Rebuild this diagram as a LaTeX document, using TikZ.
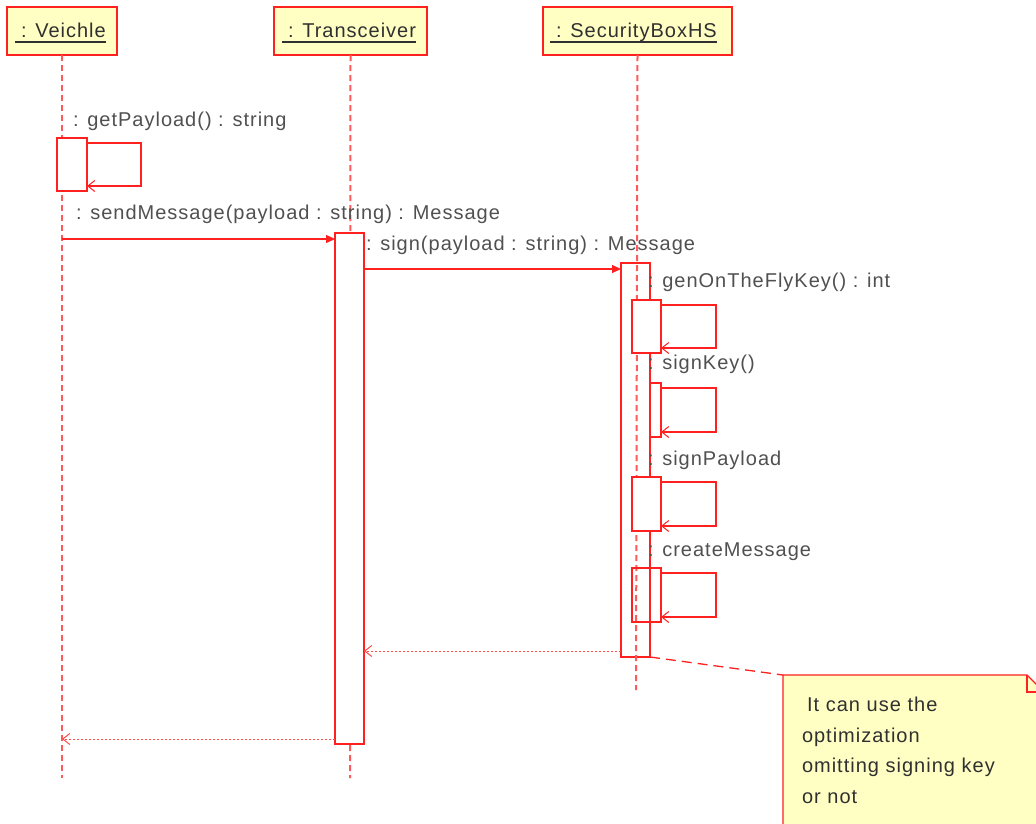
\documentclass[tikz,border=0pt]{standalone}
\usepackage{fontspec}
\setmainfont{Liberation Sans}[LetterSpace=5]
\usetikzlibrary{arrows.meta,calc}
\definecolor{umlred}{HTML}{FF2020}
\definecolor{lifered}{HTML}{FF5A5A}
\definecolor{noteyellow}{HTML}{FFFFC4}
\definecolor{labelgray}{HTML}{505050}
\definecolor{headtext}{HTML}{303030}
\tikzset{
  x=1pt, y=-1pt,
  every node/.style={inner sep=0pt, outer sep=0pt},
  txt/.style={font=\fontsize{20}{24}\selectfont, anchor=base west},
  lbl/.style={txt, text=labelgray},
  head/.style={draw=umlred, line width=1.8pt, fill=noteyellow, anchor=north west},
  lifeline/.style={draw=lifered, line width=2pt, dash pattern=on 6pt off 4pt},
  act/.style={draw=umlred, line width=1.3pt, fill=white, anchor=north west},
  actopen/.style={draw=umlred, line width=1.3pt, anchor=north west},
  call/.style={draw=umlred, line width=1.3pt, -{Triangle[length=9pt,width=8pt]}},
  selfcall/.style={draw=umlred, line width=1.3pt, -{Straight Barb[length=7pt,width=11pt,line width=1pt]}},
  reply/.style={draw=umlred!80, line width=1pt, dash pattern=on 2pt off 2pt, -{Straight Barb[length=7pt,width=11pt,line width=1pt]}},
  noteline/.style={draw=umlred, line width=1.3pt, dash pattern=on 10pt off 6pt},
}
\begin{document}
\begin{tikzpicture}
\path[use as bounding box] (0,0) rectangle (1036,823);
\clip (0,0) rectangle (1036,823);

% participant heads
\node[head, minimum width=110, minimum height=48] (veh) at (7,7) {};
\node[head, minimum width=153, minimum height=48] (trx) at (274,7) {};
\node[head, minimum width=189, minimum height=48] (sbx) at (543,7) {};
\node[txt, text=headtext] (vehT) at (15,37) {\hspace*{6pt}: Veichle};
\node[txt, text=headtext] (trxT) at (282,37) {\hspace*{6pt}: Transceiver};
\node[txt, text=headtext] (sbxT) at (550,37) {\hspace*{6pt}: SecurityBoxHS};
\foreach \n in {vehT,trxT,sbxT}
  \draw[headtext, line width=1.3pt] ([yshift=-5pt]\n.base west) -- ([yshift=-5pt]\n.base east);

% lifeline ends
\coordinate (vehEnd) at (62,778);
\coordinate (trxEnd) at (350,778);
\coordinate (sbxEnd) at (636,690);
\draw[lifeline] (veh.south) -- (vehEnd);
\draw[lifeline] (trx.south) -- (trxEnd);

% activations
\node[act, minimum width=30, minimum height=53] (vehA) at (57,138) {};
\node[act, minimum width=29, minimum height=511] (trxA) at (335,233) {};
\node[act, minimum width=29, minimum height=394] (sbxA) at (621,263) {};
\draw[lifeline] (sbx.south) -- (sbxEnd);
\node[act, minimum width=29, minimum height=53] (genA) at (632,300) {};
\node[act, minimum width=11, minimum height=54] (keyA) at (650,383) {};
\node[act, minimum width=29, minimum height=54] (payA) at (632,477) {};
\node[actopen, minimum width=29, minimum height=54] (msgA) at (632,568) {};

% message rows
\coordinate (r1) at (0,239);
\coordinate (r2) at (0,269);
\coordinate (r3) at (0,651);
\coordinate (r4) at (0,739);

% getPayload self call
\draw[selfcall] ([yshift=-5pt]vehA.north east) -| (141,186) -- ([yshift=5pt]vehA.south east);
\node[lbl] at (73,126) {: getPayload() : string};

% sendMessage
\draw[call] (veh.south |- r1) -- (trxA.west |- r1);
\node[lbl] at (76,219) {: sendMessage(payload : string) : Message};

% sign
\draw[call] (trxA.east |- r2) -- (sbxA.west |- r2);
\node[lbl] at (366,250) {: sign(payload : string) : Message};

% nested self calls
\foreach \a/\t/\y in {genA/{: genOnTheFlyKey() : int}/287, keyA/{: signKey()}/369, payA/{: signPayload}/465, msgA/{: createMessage}/556}{
  \draw[selfcall] ([yshift=-5pt]\a.north east) -| ($(\a.south east)+(55,-5)$) -- ([yshift=5pt]\a.south east);
  \node[lbl] at (648,\y) {\t};
}

% replies
\draw[reply] (sbxA.west |- r3) -- (trxA.east |- r3);
\draw[reply] (trxA.west |- r4) -- (veh.south |- r4);

% note
\node[anchor=north west, minimum width=261, minimum height=160] (note) at (783,675) {};
\fill[noteyellow] (note.north west) -- ++(244,0) -- ++(17,17) -- (note.south east) -- (note.south west) -- cycle;
\draw[umlred, line width=1.3pt] (note.south west) -- (note.north west) -- ++(244,0) -- ++(17,17);
\draw[umlred, line width=1.3pt] ($(note.north west)+(244,0)$) -- ++(0,17) -- ++(17,0);
\draw[noteline] (sbxA.south east) -- (note.north west);
\node[txt, text=headtext, align=left, anchor=north west, text width=230pt, font=\fontsize{20}{30.7}\selectfont] (noteT) at (802,697)
  {\hspace*{5pt}It can use the\\optimization\\omitting signing key\\or not};
\end{tikzpicture}
\end{document}
